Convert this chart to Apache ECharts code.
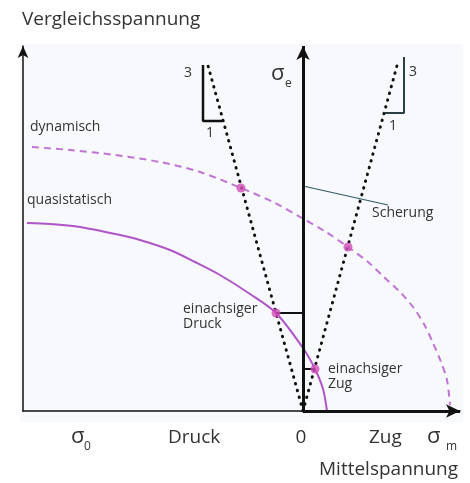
<!DOCTYPE html>
<html>
<head>
<meta charset="utf-8">
<script src="https://cdn.jsdelivr.net/npm/echarts@6/dist/echarts.min.js"></script>
<style>
  html, body { margin: 0; padding: 0; background: #fff; }
  #chart { width: 470px; height: 483px; }
</style>
</head>
<body>
<div id="chart"></div>
<script>
// Mean stress (x) vs. equivalent stress (y), origin at the "0" mark.
// Failure envelope, quasi-static loading (solid)
const quasistatisch = [[-276,188],[-253,187],[-223,184],[-183,176],[-163,171],[-133,161],[-108,149],[-83,136],[-53,117],[-27,98],[0,63],[12,42],[20,22],[24,0]];
// Failure envelope, dynamic loading (dashed)
const dynamisch = [[-271,264],[-233,261],[-188,256],[-143,249],[-103,239],[-62,223],[-30,209],[-1,193],[23,179],[45,164],[65,149],[82,133],[97,119],[110,104],[121,87],[130,68],[138,49],[144,31],[147,6]];
// Load paths with slope 3 : 1 through the origin
const druckPfad = [[0,0],[-96,349]];
const zugPfad = [[0,0],[95,349]];
// Intersection points marked on the envelopes
const schnittpunkte = [[-62,223],[45,164],[-27,98],[12,42]];
// Slope triangles (3 up, 1 across)
const dreieckLinks = [[-100,346],[-100,290],[-81,290]];
const dreieckRechts = [[101,354],[101,298],[82,298]];
// Shear reference line
const scherung = [[0,225],[85,206]];
// Level marks from the sigma_e axis to the uniaxial points
const druckMarke = [[-27,98],[0,98]];
const zugMarke = [[0,42],[12,42]];

const FONT = '"Open Sans", "Noto Sans", sans-serif';
const TXT = '#333';

function plain(data, color, width, extra) {
  return Object.assign({
    type: 'line', data: data, symbol: 'none', silent: true,
    lineStyle: { color: color, width: width }, z: 3
  }, extra || {});
}

function text(str, x, y, size, opts) {
  return Object.assign({
    type: 'text', x: x, y: y, silent: true, z: 10,
    style: { text: str, fill: TXT, font: size + 'px ' + FONT, textVerticalAlign: 'middle', textAlign: 'left' }
  }, opts || {});
}
function textC(str, x, y, size) {
  const t = text(str, x, y, size);
  t.style.textAlign = 'center';
  return t;
}

const chart = echarts.init(document.getElementById('chart'), null, { renderer: 'canvas' });
chart.setOption({
  animation: false,
  backgroundColor: '#fff',
  grid: { left: 23, right: 10, top: 46, bottom: 72 },
  xAxis: {
    type: 'value', min: -280, max: 157,
    axisLine: { show: true, onZero: false, lineStyle: { color: '#111', width: 1.5 } },
    axisTick: { show: false }, axisLabel: { show: false }, splitLine: { show: false }
  },
  yAxis: {
    type: 'value', min: 0, max: 365,
    axisLine: { show: true, onZero: false, symbol: ['none', 'arrow'], symbolSize: [8, 12], symbolOffset: [0, 0], lineStyle: { color: '#111', width: 1.5 } },
    axisTick: { show: false }, axisLabel: { show: false }, splitLine: { show: false }
  },
  graphic: [
    { type: 'rect', shape: { x: 20, y: 44, width: 443, height: 378 }, style: { fill: '#f7f9fc' }, z: -10, silent: true },
    text('Vergleichsspannung', 22, 20, 19),
    text('dynamisch', 30, 127, 14),
    text('quasistatisch', 27, 200, 14),
    text('Scherung', 372, 213, 14),
    text('einachsiger', 183, 309, 14),
    text('Druck', 183, 324, 14),
    text('einachsiger', 328, 369, 14),
    text('Zug', 328, 384, 14),
    textC('3', 188, 73, 14),
    textC('1', 210, 133, 14),
    textC('3', 413, 72, 14),
    textC('1', 393, 126, 14),
    text('σ', 271, 74, 22),
    text('e', 285, 84, 12),
    text('σ', 71, 437, 22),
    text('0', 84, 447, 12),
    text('Druck', 168, 438, 19),
    textC('0', 301, 438, 19),
    text('Zug', 369, 438, 19),
    text('σ', 427, 437, 22),
    text('m', 446, 447, 12),
    text('Mittelspannung', 319, 470, 19)
  ],
  series: [
    plain(druckPfad, '#111', 3, { lineStyle: { color: '#111', width: 3, type: [0.5, 6.5], cap: 'round' } }),
    plain(zugPfad, '#111', 3, { lineStyle: { color: '#111', width: 3, type: [0.5, 6.5], cap: 'round' } }),
    plain(quasistatisch, '#b055c8', 2, { smooth: 0.3 }),
    plain(dynamisch, '#c074d4', 2, { smooth: 0.3, lineStyle: { color: '#c074d4', width: 2, type: [7, 5] } }),
    plain(scherung, '#2f5a62', 1.2),
    plain(druckMarke, '#111', 2),
    plain(zugMarke, '#111', 2),
    plain(dreieckLinks, '#111', 2.5),
    plain(dreieckRechts, '#2d3f45', 2),
    {
      type: 'line', data: [], silent: true,
      markLine: {
        silent: true, symbol: ['none', 'arrow'], symbolSize: [10, 14],
        label: { show: false },
        lineStyle: { color: '#111', width: 3, type: 'solid' },
        data: [
          [{ coord: [0, 0] }, { coord: [0, 365] }],
          [{ coord: [0, 0] }, { coord: [157, 0] }]
        ]
      }
    },
    {
      type: 'scatter', data: schnittpunkte, symbolSize: 9, silent: true, z: 5,
      itemStyle: { color: '#d24fb8' }
    }
  ]
});
</script>
</body>
</html>
